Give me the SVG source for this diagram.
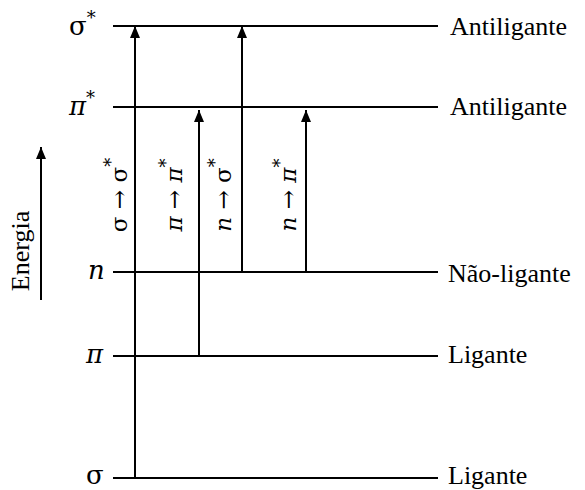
<svg xmlns="http://www.w3.org/2000/svg" width="585" height="490" viewBox="0 0 585 490">
<defs>
<marker id="ah2" viewBox="0 0 12 10" refX="12" refY="5" markerWidth="12" markerHeight="10" markerUnits="userSpaceOnUse" orient="auto">
<path d="M0,0 L12,5 L0,10 z" fill="#000"/>
</marker>
</defs>
<style>
text{font-family:"Liberation Serif","Times New Roman",serif;fill:#000;font-size:26px}
.lvl{stroke:#000;stroke-width:2;fill:none}
.tr{stroke:#000;stroke-width:2;fill:none;marker-end:url(#ah2)}
.sym{font-family:"DejaVu Serif","Liberation Serif",serif;font-size:26px}
.rot{font-family:"DejaVu Serif","Liberation Serif",serif;font-size:23px}
.it{font-style:italic}
.sup{font-size:18px;font-style:normal}
</style>
<rect width="585" height="490" fill="#fff"/>
<g id="axis">
<line x1="41" y1="300" x2="41" y2="147" class="tr"/>
<text transform="translate(29,251) rotate(-90)" text-anchor="middle">Energia</text>
</g>
<g id="sigma-star">
<line x1="113" y1="26" x2="438" y2="26" class="lvl"/>
<text x="69" y="35" class="sym">σ<tspan class="sup" dy="-11">*</tspan></text>
<text x="450" y="35">Antiligante</text>
</g>
<g id="pi-star">
<line x1="113" y1="107" x2="438" y2="107" class="lvl"/>
<text x="69" y="115" class="sym it">π<tspan class="sup" dy="-11">*</tspan></text>
<text x="450" y="115">Antiligante</text>
</g>
<g id="n">
<line x1="113" y1="272" x2="438" y2="272" class="lvl"/>
<text x="88" y="279" class="sym it">n</text>
<text x="448" y="282">Não-ligante</text>
</g>
<g id="pi">
<line x1="113" y1="356" x2="438" y2="356" class="lvl"/>
<text x="86" y="363" class="sym it">π</text>
<text x="448" y="363">Ligante</text>
</g>
<g id="sigma">
<line x1="113" y1="478" x2="438" y2="478" class="lvl"/>
<text x="86" y="484" class="sym">σ</text>
<text x="448" y="484">Ligante</text>
</g>
<g id="connectors">
<line x1="135" y1="478" x2="135" y2="26" class="tr"/>
<line x1="199" y1="356" x2="199" y2="110" class="tr"/>
<line x1="242" y1="272" x2="242" y2="26" class="tr"/>
<line x1="306" y1="272" x2="306" y2="110" class="tr"/>
<text class="rot" transform="translate(127,195) rotate(-90)" text-anchor="middle">σ → σ<tspan class="sup" dy="-10">*</tspan></text>
<text class="rot" transform="translate(182,195) rotate(-90)" text-anchor="middle"><tspan class="it">π</tspan> → <tspan class="it">π</tspan><tspan class="sup" dy="-10">*</tspan></text>
<text class="rot" transform="translate(231,195) rotate(-90)" text-anchor="middle"><tspan class="it">n</tspan> → σ<tspan class="sup" dy="-10">*</tspan></text>
<text class="rot" transform="translate(296,195) rotate(-90)" text-anchor="middle"><tspan class="it">n</tspan> → <tspan class="it">π</tspan><tspan class="sup" dy="-10">*</tspan></text>
</g>
</svg>
